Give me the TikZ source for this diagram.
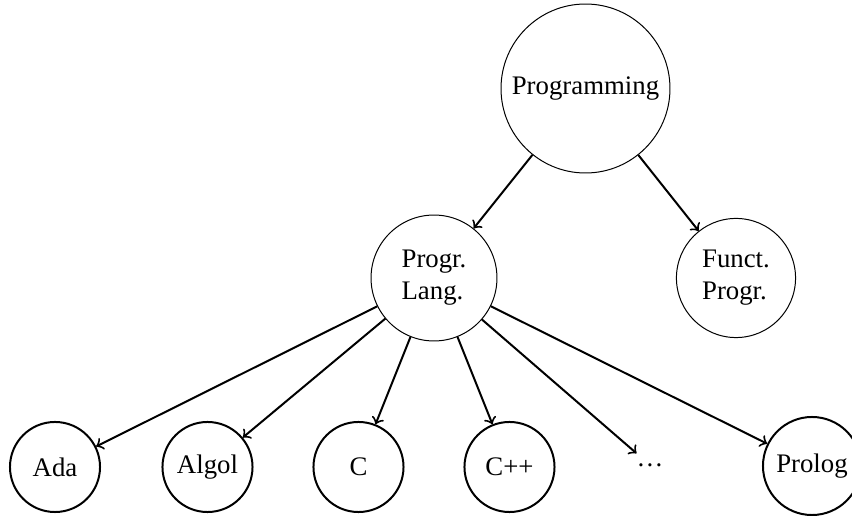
\documentclass[tikz,border=0pt]{standalone}
\usepackage{fontspec}
\setmainfont{Liberation Serif}
\begin{document}
\begin{tikzpicture}[x=0.3509pt, y=-0.3509pt,
  txt/.style={font=\fontsize{9.4}{11.2}\selectfont},
  topnode/.style={txt, circle, draw, line width=0.35pt, inner sep=0pt, align=left},
  leafnode/.style={txt, circle, draw, line width=0.7pt, inner sep=0pt, minimum size=31.6pt},
  conn/.style={->, line width=0.7pt}]
\useasboundingbox (0,0) rectangle (852,516);
\node[topnode, minimum size=59.3pt] (prog) at (585.5,88.5) {Programming};
\node[topnode, minimum size=44.2pt] (lang) at (434,278) {Progr.\\Lang.};
\node[topnode, minimum size=41.8pt] (funct) at (736,278) {Funct.\\Progr.};
\node[leafnode] (ada) at (55,467) {Ada};
\node[leafnode] (algol) at (207.5,467) {Algol};
\node[leafnode] (c) at (358.5,467) {C};
\node[leafnode] (cpp) at (509.5,467) {C++};
\node[txt] (dots) at (650,465) {\ldots};
\node[leafnode, minimum size=34.4pt] (prolog) at (812,466) {Prolog};
\draw[conn] (prog) -- (lang);
\draw[conn] (prog) -- (funct);
\draw[conn] (lang) -- (ada);
\draw[conn] (lang) -- (algol);
\draw[conn] (lang) -- (c);
\draw[conn] (lang) -- (cpp);
\draw[conn] (lang) -- (dots);
\draw[conn] (lang) -- (prolog);
\end{tikzpicture}
\end{document}
